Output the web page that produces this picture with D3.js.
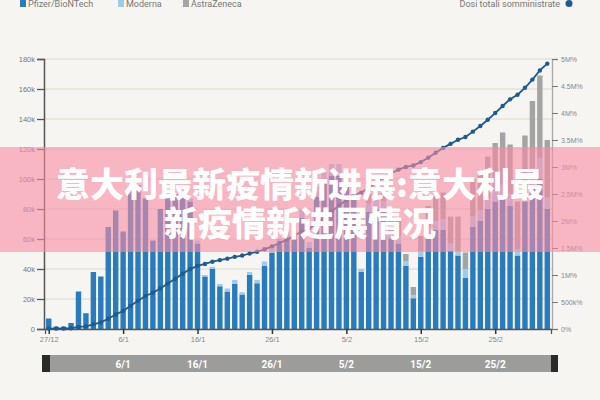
<!DOCTYPE html>
<html>
<head>
<meta charset="utf-8">
<script src="https://cdn.jsdelivr.net/npm/d3@7"></script>
<style>
  body { margin: 0; background: #f6f5f1; }
  svg { display: block; font-family: Roboto, "Liberation Sans", sans-serif; }
</style>
</head>
<body>
<div id="chart"></div>
<script>
// daily doses, thousands, one entry per day from 27/12
var startDay = "2020-12-27";
var pfizer = [7, 1.5, 1.5, 4, 25, 10.5, 38, 35, 68, 79, 65, 94, 96, 87, 59, 80, 90, 90, 91, 85,
  57, 35, 40, 28.5, 25, 30, 23, 36, 30.5, 42, 51, 56, 60, 65, 74, 54, 88, 97, 102, 102,
  97, 88, 38, 78, 80, 78, 60, 57, 42, 20.5, 48, 62, 66, 66, 52, 49, 34, 68, 72, 80,
  85, 88, 82, 49, 85, 95, 100, 80];
var moderna = [0, 0, 0, 0, 0, 0, 0, 0, 0, 0, 0, 0, 0, 0, 0, 0, 0, 0, 1, 2,
  2, 1, 1.5, 1.5, 2, 2.7, 1.5, 2, 2.2, 3, 4, 4, 5, 5, 6, 4, 7, 8, 8, 8,
  8, 7, 2, 6, 7, 7, 5, 5, 3, 2, 4, 6, 6, 7, 5, 3, 6, 7, 7, 7,
  7, 8, 8, 4, 9, 12, 14, 8];
var astrazeneca = [0, 0, 0, 0, 0, 0, 0, 0, 0, 0, 0, 0, 0, 0, 0, 0, 0, 0, 0, 0,
  0, 0, 0, 0, 0, 0, 0, 0, 0, 0, 0, 0, 0, 0, 0, 0, 0, 0, 0, 0,
  0, 0, 0, 6, 8, 10, 10, 10, 5, 5.5, 10, 14, 18, 18, 18, 23, 11, 25, 26, 28,
  32, 35, 33, 32, 35, 45, 55, 38];

var seriesNames = ["Pfizer/BioNTech", "Moderna", "AstraZeneca"];
var seriesColors = ["#2a7bbb", "#9fcbea", "#a4a4a4"];
var leftTicks = [0, 20, 40, 60, 80, 100, 120, 140, 160, 180];
var leftTickLabels = ["0", "20k", "40k", "60k", "80k", "100k", "120k", "140k", "160k", "180k"];
var rightTicks = [0, 500, 1000, 1500, 2000, 2500, 3000, 3500, 4000, 4500, 5000];
var rightTickLabels = ["0%", "500k%", "1M%", "1.5M%", "2M%", "2.5M%", "3M%", "3.5M%", "4M%", "4.5M%", "5M%"];
var dateTickLabels = ["27/12", "6/1", "16/1", "26/1", "5/2", "15/2", "25/2"];
var brushLabels = ["6/1", "16/1", "26/1", "5/2", "15/2", "25/2"];
var title1 = "意大利最新疫情新进展:意大利最";
var title2 = "新疫情新进展情况";

var width = 600, height = 400;
var parse = d3.timeParse("%Y-%m-%d");
var day0 = parse(startDay);

var data = pfizer.map(function(p, i) {
  return {
    date: d3.timeDay.offset(day0, i),
    "Pfizer/BioNTech": p,
    "Moderna": moderna[i],
    "AstraZeneca": astrazeneca[i]
  };
});
var totals = data.map(function(d) { return d["Pfizer/BioNTech"] + d.Moderna + d.AstraZeneca; });
var cumul = Array.from(d3.cumsum(totals));

var plot = { left: 44, right: 552, top: 59, bottom: 329 };

var x = d3.scaleTime()
  .domain([d3.timeHour.offset(day0, -12), d3.timeHour.offset(data[data.length - 1].date, 12)])
  .range([plot.left + 1, plot.right - 1]);
var y = d3.scaleLinear().domain([0, 180]).range([plot.bottom, plot.top]);
var y2 = d3.scaleLinear().domain([0, 5000]).range([plot.bottom, plot.top]);
var color = d3.scaleOrdinal().domain(seriesNames).range(seriesColors);

var svg = d3.select("#chart").append("svg")
  .attr("width", width)
  .attr("height", height);

svg.append("rect").attr("width", width).attr("height", height).attr("fill", "#f6f5f1");

// grid
svg.append("g")
  .selectAll("line")
  .data(leftTicks)
  .enter().append("line")
  .attr("x1", plot.left).attr("x2", plot.right)
  .attr("y1", function(d) { return y(d); })
  .attr("y2", function(d) { return y(d); })
  .attr("stroke", "#e2e0d9")
  .attr("stroke-width", 1.4);

// stacked bars
var stack = d3.stack().keys(seriesNames)(data);
var barW = 5.4;
svg.append("g")
  .selectAll("g")
  .data(stack)
  .enter().append("g")
  .attr("fill", function(d) { return color(d.key); })
  .selectAll("rect")
  .data(function(d) { return d; })
  .enter().append("rect")
  .attr("x", function(d) { return x(d.data.date) - barW / 2; })
  .attr("width", barW)
  .attr("y", function(d) { return y(d[1]); })
  .attr("height", function(d) { return y(d[0]) - y(d[1]); });

// left axis
var yAxis = d3.axisLeft(y).tickValues(leftTicks)
  .tickFormat(function(d, i) { return leftTickLabels[i]; })
  .tickSize(7).tickPadding(2);
var gy = svg.append("g").attr("transform", "translate(" + plot.left + ",0)").call(yAxis);
gy.select(".domain").attr("stroke", "#555").attr("stroke-width", 1.5);
gy.selectAll(".tick line").attr("stroke", "#555").attr("stroke-width", 1.3);
gy.selectAll("text").attr("fill", "#777").style("font-size", "7.5px");

// right axis
var y2Axis = d3.axisRight(y2).tickValues(rightTicks)
  .tickFormat(function(d, i) { return rightTickLabels[i]; })
  .tickSize(6).tickPadding(3);
var gy2 = svg.append("g").attr("transform", "translate(" + plot.right + ",0)").call(y2Axis);
gy2.select(".domain").attr("stroke", "#aaa").attr("stroke-width", 1.3);
gy2.selectAll(".tick line").attr("stroke", "#777");
gy2.selectAll("text").attr("fill", "#888").style("font-size", "7px");

// bottom axis
var dateTicks = dateTickLabels.map(function(d, i) { return d3.timeDay.offset(day0, i * 10); });
var xAxis = d3.axisBottom(x).tickValues(dateTicks)
  .tickFormat(function(d, i) { return dateTickLabels[i]; })
  .tickSize(5).tickPadding(3);
var gx = svg.append("g").attr("transform", "translate(0," + plot.bottom + ")").call(xAxis);
gx.select(".domain").attr("stroke", "#555").attr("stroke-width", 1.3);
gx.selectAll(".tick line").attr("stroke", "#333").attr("stroke-width", 1.5);
gx.selectAll("text").attr("fill", "#888").style("font-size", "7.5px");

// cumulative line
var line = d3.line()
  .x(function(d, i) { return x(data[i].date); })
  .y(function(d) { return y2(d); });
svg.append("path")
  .datum(cumul)
  .attr("fill", "none")
  .attr("stroke", "#1d5b90")
  .attr("stroke-width", 1.8)
  .attr("d", line);
svg.append("g")
  .selectAll("circle")
  .data(cumul)
  .enter().append("circle")
  .attr("cx", function(d, i) { return x(data[i].date); })
  .attr("cy", function(d) { return y2(d); })
  .attr("r", 2.2)
  .attr("fill", "#1d5b90");

// legend (sits right at the top edge, as in the source)
var legX = [20, 118, 183];
var leg = svg.append("g")
  .selectAll("g")
  .data(seriesNames)
  .enter().append("g")
  .attr("transform", function(d, i) { return "translate(" + legX[i] + ",0)"; });
leg.append("rect").attr("y", 0).attr("width", 6).attr("height", 7)
  .attr("fill", function(d) { return color(d); });
leg.append("text").attr("x", 8).attr("y", 7)
  .attr("fill", "#777").style("font-size", "9px")
  .text(function(d) { return d; });
svg.append("text").attr("x", 560).attr("y", 7).attr("text-anchor", "end")
  .attr("fill", "#777").style("font-size", "9px").text("Dosi totali somministrate");
svg.append("circle").attr("cx", 569).attr("cy", 3.5).attr("r", 3.5).attr("fill", "#1d5b90");

// navigator
var nav = svg.append("g");
nav.append("rect").attr("x", 42).attr("y", 355).attr("width", 516).attr("height", 17)
  .attr("fill", "#9c9c9a");
nav.append("rect").attr("x", 42).attr("y", 355).attr("width", 8).attr("height", 17).attr("fill", "#2a2a2a");
nav.append("rect").attr("x", 551).attr("y", 355).attr("width", 7).attr("height", 17).attr("fill", "#2a2a2a");
nav.selectAll(".blab")
  .data(brushLabels)
  .enter().append("text")
  .attr("x", function(d, i) { return x(dateTicks[i + 1]); })
  .attr("y", 367.5)
  .attr("text-anchor", "middle")
  .attr("fill", "#fff")
  .style("font-size", "10px")
  .style("font-weight", "bold")
  .text(function(d) { return d; });

// banner overlay
svg.append("rect").attr("x", 0).attr("y", 147).attr("width", width).attr("height", 105)
  .attr("fill", "rgba(250,140,165,0.6)");
svg.selectAll(".ttl")
  .data([title1, title2])
  .enter().append("text")
  .attr("x", 300)
  .attr("y", function(d, i) { return 182 + i * 39; })
  .attr("text-anchor", "middle")
  .attr("dominant-baseline", "central")
  .attr("fill", "#fff")
  .style("font-family", "'Noto Sans CJK SC', sans-serif")
  .style("font-weight", "900")
  .style("font-size", "34px")
  .text(function(d) { return d; });
</script>
</body>
</html>
